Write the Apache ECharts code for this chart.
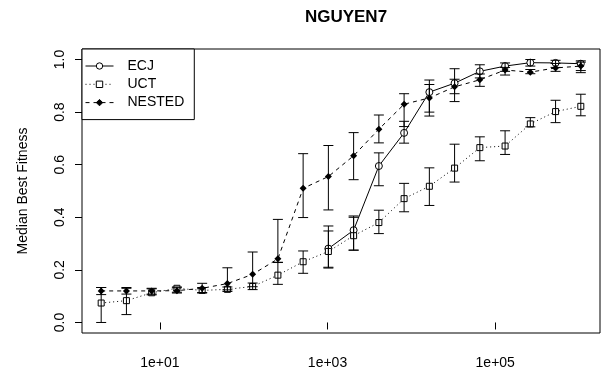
<!DOCTYPE html>
<html>
<head>
<meta charset="utf-8">
<script src="https://cdn.jsdelivr.net/npm/echarts@6/dist/echarts.min.js"></script>
<style>
html,body{margin:0;padding:0;background:#fff;}
#chart{width:601px;height:373px;}
</style>
</head>
<body>
<div id="chart"></div>
<script>
// ---- data ----
const evaluations = [2,4,8,16,32,64,128,256,512,1024,2048,4096,8192,16384,32768,65536,131072,262144,524288,1048576];
const seriesNames = ['ECJ','UCT','NESTED'];
const xTickValues = [10, 1000, 100000];
const yTickValues = [0, 0.2, 0.4, 0.6, 0.8, 1.0];

const ecjMedian = [null,null,null,null,null,null,null,null,null,0.281,0.351,0.595,0.721,0.876,0.910,0.955,0.975,0.988,0.987,0.984];
const ecjLow    = [null,null,null,null,null,null,null,null,null,0.210,0.275,0.520,0.682,0.785,0.840,0.930,0.955,0.975,0.970,0.950];
const ecjHigh   = [null,null,null,null,null,null,null,null,null,0.367,0.405,0.645,0.765,0.922,0.965,0.980,0.987,1.000,0.997,0.995];

const uctMedian = [0.074,0.083,0.113,0.130,0.122,0.126,0.137,0.180,0.231,0.270,0.330,0.380,0.471,0.518,0.587,0.665,0.671,0.755,0.802,0.822];
const uctLow    = [0.000,0.030,0.105,0.115,0.112,0.118,0.125,0.145,0.187,0.207,0.275,0.338,0.421,0.445,0.534,0.615,0.639,0.744,0.760,0.786];
const uctHigh   = [0.133,0.130,0.128,0.135,0.133,0.135,0.150,0.229,0.272,0.348,0.400,0.427,0.529,0.588,0.678,0.706,0.729,0.779,0.845,0.868];

const nestedMedian = [0.120,0.120,0.120,0.121,0.130,0.148,0.183,0.242,0.510,0.555,0.634,0.735,0.830,0.854,0.896,0.923,0.960,0.952,0.968,0.975];
const nestedLow    = [0.106,0.108,0.108,0.112,0.114,0.124,0.136,0.228,0.399,0.428,0.543,0.683,0.745,0.800,0.870,0.898,0.941,0.946,0.955,0.958];
const nestedHigh   = [0.133,0.133,0.130,0.132,0.149,0.208,0.268,0.392,0.642,0.673,0.722,0.789,0.870,0.905,0.925,0.945,0.970,0.962,0.985,0.990];

// ---- helpers ----
function points(vals){
  const out = [];
  evaluations.forEach((x,i)=>{ if (vals[i] != null) out.push([x, vals[i]]); });
  return out;
}
function bars(lo, hi){
  const out = [];
  evaluations.forEach((x,i)=>{ if (lo[i] != null) out.push([x, lo[i], hi[i]]); });
  return out;
}
function renderBar(params, api){
  const x = api.value(0), lo = api.value(1), hi = api.value(2);
  const pLo = api.coord([x, lo]);
  const pHi = api.coord([x, hi]);
  const cap = 5;
  const st = {stroke:'#000', lineWidth:1, fill:null};
  return {
    type:'group',
    children:[
      {type:'line', shape:{x1:pLo[0], y1:pLo[1], x2:pHi[0], y2:pHi[1]}, style:st},
      {type:'line', shape:{x1:pLo[0]-cap, y1:pLo[1], x2:pLo[0]+cap, y2:pLo[1]}, style:st},
      {type:'line', shape:{x1:pHi[0]-cap, y1:pHi[1], x2:pHi[0]+cap, y2:pHi[1]}, style:st}
    ]
  };
}

const FONT = 'Liberation Sans, Arial, Helvetica, sans-serif';
const chart = echarts.init(document.getElementById('chart'), null, {renderer:'canvas'});

chart.setOption({
  animation:false,
  backgroundColor:'#fff',
  title:{
    text:'NGUYEN7',
    left:341, top:4, textAlign:'center',
    textStyle:{fontFamily:FONT, fontSize:17, fontWeight:'bold', color:'#000'}
  },
  grid:{left:82, right:1, top:49, bottom:40, show:true, borderColor:'#000', borderWidth:1, backgroundColor:'transparent'},
  legend:{
    data:seriesNames,
    orient:'vertical',
    left:82, top:49,
    padding:[10,10,10,3],
    itemGap:4.3,
    itemWidth:28, itemHeight:8,
    borderColor:'#000', borderWidth:1,
    backgroundColor:'#fff',
    lineStyle:{width:1},
    itemStyle:{borderWidth:1},
    textStyle:{fontFamily:FONT, fontSize:14, color:'#000', padding:[0,0,0,9]},
    selectedMode:false
  },
  xAxis:{
    type:'log', logBase:10,
    min:1.181, max:1776000,
    splitLine:{show:false},
    axisLine:{show:false},
    axisTick:{show:true, length:7, inside:false, customValues:xTickValues, lineStyle:{color:'#000'}},
    axisLabel:{
      customValues:xTickValues,
      margin:23,
      fontFamily:FONT, fontSize:14, color:'#000',
      formatter:function(v){ const e = Math.round(Math.log10(v)); return '1e+' + (e<10?'0':'') + e; }
    }
  },
  yAxis:{
    type:'value',
    min:-0.04, max:1.04,
    name:'Median Best Fitness',
    nameLocation:'middle', nameGap:52,
    nameTextStyle:{fontFamily:FONT, fontSize:14, color:'#000'},
    splitLine:{show:false},
    axisLine:{show:false},
    axisTick:{show:true, length:7, customValues:yTickValues, lineStyle:{color:'#000'}},
    axisLabel:{
      customValues:yTickValues,
      rotate:90, margin:15,
      fontFamily:FONT, fontSize:14, color:'#000',
      formatter:function(v){ return v.toFixed(1); }
    }
  },
  series:[
    {
      name:'ECJ', type:'line', data:points(ecjMedian),
      symbol:'circle', symbolSize:7,
      lineStyle:{color:'#000', width:1, type:'solid'},
      itemStyle:{color:'#fff', borderColor:'#000', borderWidth:1},
      z:3
    },
    {
      name:'UCT', type:'line', data:points(uctMedian),
      symbol:'rect', symbolSize:6,
      lineStyle:{color:'#000', width:1, type:[1,3]},
      itemStyle:{color:'#fff', borderColor:'#000', borderWidth:1},
      z:3
    },
    {
      name:'NESTED', type:'line', data:points(nestedMedian),
      symbol:'diamond', symbolSize:7,
      lineStyle:{color:'#000', width:1, type:[4,4]},
      itemStyle:{color:'#000', borderColor:'#000', borderWidth:0},
      z:3
    },
    {type:'custom', name:'ecjBars', data:bars(ecjLow, ecjHigh), renderItem:renderBar, z:4, silent:true},
    {type:'custom', name:'uctBars', data:bars(uctLow, uctHigh), renderItem:renderBar, z:4, silent:true},
    {type:'custom', name:'nestedBars', data:bars(nestedLow, nestedHigh), renderItem:renderBar, z:4, silent:true}
  ]
});
</script>
</body>
</html>
